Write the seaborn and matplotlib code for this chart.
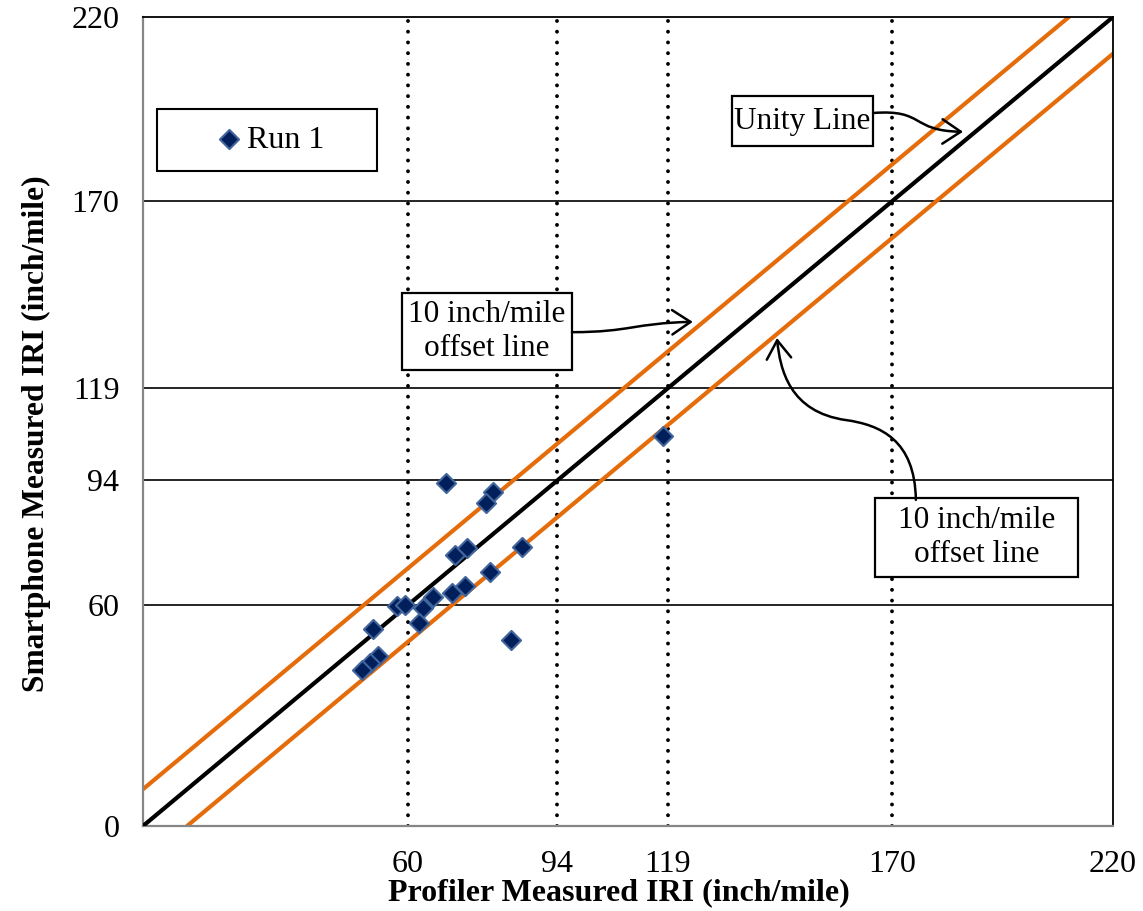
import numpy as np
import pandas as pd
import seaborn as sns
import matplotlib.pyplot as plt
from matplotlib.patches import FancyArrowPatch, Rectangle
from matplotlib.path import Path

# IRI pairs for the test run (inch/mile)
profiler_iri = [68.7, 79.4, 77.7, 70.8, 73.6, 86.0, 78.8, 73.0, 70.1, 65.7,
                63.6, 57.7, 59.5, 62.5, 52.2, 83.4, 53.4, 51.5, 49.6, 117.9]
smartphone_iri = [93.4, 90.8, 87.9, 73.7, 75.5, 76.0, 69.1, 65.3, 63.3, 62.2,
                  59.2, 59.8, 60.0, 55.1, 53.5, 50.6, 46.3, 44.2, 42.4, 106.1]
series_label = "Run 1"

# Reference lines: unity and +/- 10 inch/mile offsets
unity_x = [0, 220]
unity_y = [0, 220]
upper_x = [0, 210]
upper_y = [10, 220]
lower_x = [10, 220]
lower_y = [0, 210]

# Threshold grid values and axis ticks
grid_values = [60, 94, 119, 170]
x_ticks = [60, 94, 119, 170, 220]
y_ticks = [0, 60, 94, 119, 170, 220]

sns.set_style("white")
plt.rcParams['font.family'] = ['Liberation Serif', 'DejaVu Serif']
plt.rcParams['font.size'] = 22
plt.rcParams['text.color'] = 'black'
plt.rcParams['axes.labelcolor'] = 'black'
plt.rcParams['xtick.labelcolor'] = 'black'
plt.rcParams['ytick.labelcolor'] = 'black'

fig = plt.figure(figsize=(11.43, 9.11), dpi=100)
ax = fig.add_axes([0.1251, 0.0933, 0.8486, 0.8880])

# grid: solid horizontals, dotted verticals
for v in grid_values:
    ax.axhline(v, color='black', lw=1.2, zorder=1)
    ax.axvline(v, color='black', lw=2.8, linestyle=(0, (0.01, 2.75)),
               dash_capstyle='round', zorder=1)

orange = '#E46C0A'
sns.lineplot(x=upper_x, y=upper_y, color=orange, lw=3, ax=ax, zorder=2)
sns.lineplot(x=lower_x, y=lower_y, color=orange, lw=3, ax=ax, zorder=2)
sns.lineplot(x=unity_x, y=unity_y, color='black', lw=3, ax=ax, zorder=3)

sns.scatterplot(x=profiler_iri, y=smartphone_iri, marker='D', s=95,
                color='#001F5B', edgecolor='#41659C', linewidth=1.5,
                label=series_label, zorder=4, ax=ax, legend=False)

ax.set_xlim(0, 220)
ax.set_ylim(0, 220)
ax.set_xticks(x_ticks)
ax.set_yticks(y_ticks)
ax.tick_params(axis='y', direction='in', length=5, color='#868686', pad=17,
               labelsize=23, labelcolor='black')
ax.tick_params(axis='x', length=0, pad=17, labelsize=23, labelcolor='black')

for side in ['left', 'bottom']:
    ax.spines[side].set_color('#868686')
    ax.spines[side].set_linewidth(1.6)
for side in ['top', 'right']:
    ax.spines[side].set_color('black')
    ax.spines[side].set_linewidth(1.3)

ax.set_xlabel('Profiler Measured IRI (inch/mile)', fontweight='bold',
              fontsize=23, labelpad=0, color='black')
ax.set_ylabel('Smartphone Measured IRI (inch/mile)', fontweight='bold',
              fontsize=22.7, labelpad=15, color='black')
ax.xaxis.label.set_x(0.4907)
ax.yaxis.label.set_y(0.4845)

# legend with a square frame
handles, labels = ax.get_legend_handles_labels()
leg = ax.legend(handles, labels, loc='center', bbox_to_anchor=(28.8, 186.6),
                bbox_transform=ax.transData, frameon=False, handlelength=0.8,
                handletextpad=0.15, borderpad=0, fontsize=23,
                labelcolor='black')
ax.add_patch(Rectangle((3.2, 178.1), 49.9, 16.9, fill=False, ec='black',
                       lw=1.5, zorder=5))

# callout boxes
def callout(x0, y0, w, h, text):
    ax.add_patch(Rectangle((x0, y0), w, h, facecolor='white', ec='black',
                           lw=1.6, zorder=5))
    ax.text(x0 + w / 2, y0 + h / 2, text, ha='center', va='center',
            fontsize=22.5, linespacing=1.25, color='black', zorder=6)

callout(133.6, 184.9, 32.0, 13.6, 'Unity Line')
callout(58.7, 124.0, 38.6, 21.0, '10 inch/mile\noffset line')
callout(166.0, 67.7, 46.1, 21.5, '10 inch/mile\noffset line')

# curved leader arrows
arrow_style = '->,head_length=0.6,head_width=0.4'
C = Path.CURVE4
leaders = [
    ([(165.6, 193.9), (177.4, 195.0), (174.0, 189.0), (186.0, 188.8)],
     [Path.MOVETO, C, C, C]),
    ([(97.3, 134.3), (110.5, 134.3), (111.6, 136.8), (124.7, 137.1)],
     [Path.MOVETO, C, C, C]),
    ([(175.3, 88.7), (175.1, 105.0), (167.2, 109.1), (159.4, 110.4),
      (146.7, 112.6), (144.5, 124.0), (143.8, 132.7)],
     [Path.MOVETO, C, C, C, C, C, C]),
]
for verts, codes in leaders:
    arr = FancyArrowPatch(path=Path(verts, codes), arrowstyle=arrow_style,
                          mutation_scale=22, lw=1.8, color='black', zorder=6)
    ax.add_patch(arr)

fig.savefig('out.png', dpi=100)
